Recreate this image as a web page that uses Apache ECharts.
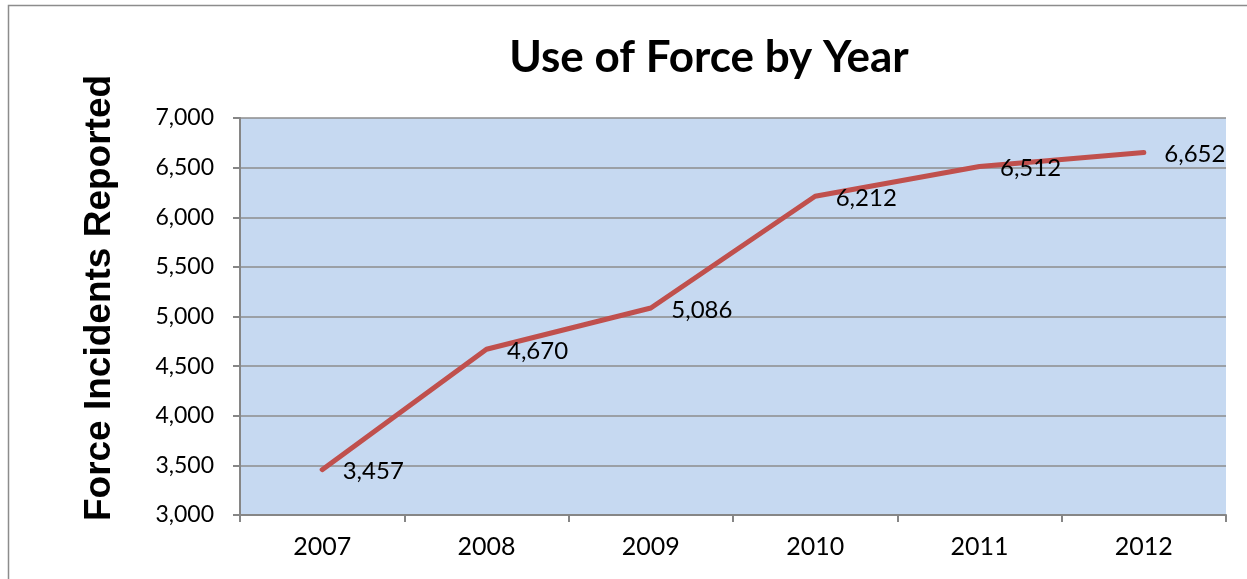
<!DOCTYPE html>
<html><head><meta charset="utf-8">
<script src="https://cdn.jsdelivr.net/npm/echarts@6/dist/echarts.min.js"></script>
<style>html,body{margin:0;padding:0;background:#fff}#c{width:1247px;height:579px}</style>
</head><body><div id="c"></div>
<script>
var years = ['2007','2008','2009','2010','2011','2012'];
var incidents = [3457, 4670, 5086, 6212, 6512, 6652];
var yTicks = [3000, 3500, 4000, 4500, 5000, 5500, 6000, 6500, 7000];
var yName = 'Force Incidents Reported';

var chart = echarts.init(document.getElementById('c'));
chart.setOption({
  animation: false,
  backgroundColor: '#fff',
  title: {
    text: 'Use of Force by Year',
    left: 704, top: 31, textAlign: 'center',
    textStyle: {fontFamily: 'Lato', fontWeight: 'bold', fontSize: 44, color: '#000'}
  },
  graphic: [{
    type: 'rect', shape: {x: 8.5, y: 5.5, width: 1400, height: 800},
    style: {fill: 'none', stroke: '#8c8c8c', lineWidth: 1.5}, silent: true
  }, {
    type: 'text', x: 100, y: 298, rotation: Math.PI / 2,
    style: {text: yName, fontFamily: 'Liberation Sans', fontWeight: 'bold', fontSize: 37,
      fill: '#000', align: 'center', verticalAlign: 'middle'}, silent: true
  }],
  grid: {left: 240, right: 21, top: 118, bottom: 64, backgroundColor: '#c6d9f1', show: true, borderWidth: 0},
  xAxis: {
    type: 'category', data: years, boundaryGap: true,
    axisLine: {lineStyle: {color: '#868686', width: 2}},
    axisTick: {show: true, length: 7, lineStyle: {color: '#868686', width: 2}},
    axisLabel: {fontFamily: 'Lato', fontSize: 25, color: '#000', margin: 19}
  },
  yAxis: {
    type: 'value', min: yTicks[0], max: yTicks[yTicks.length-1], interval: 500,
    axisLine: {show: true, lineStyle: {color: '#868686', width: 2}},
    axisTick: {show: true, length: 7, lineStyle: {color: '#868686', width: 2}},
    splitLine: {lineStyle: {color: '#8c8c8c', width: 1.5}},
    axisLabel: {fontFamily: 'Lato', fontSize: 23, color: '#000', margin: 26,
      formatter: function(v){ return v.toLocaleString('en-US'); }}
  },
  series: [{
    type: 'line', data: incidents, showSymbol: true, symbol: 'circle', symbolSize: 1,
    itemStyle: {color: 'rgba(0,0,0,0)'},
    lineStyle: {color: '#c0504d', width: 5, cap: 'round', join: 'round'},
    label: {show: true, position: 'right', distance: 20, offset: [0, 2],
      fontFamily: 'Lato', fontSize: 24, color: '#000',
      formatter: function(p){ return p.value.toLocaleString('en-US'); }}
  }]
});
</script></body></html>
